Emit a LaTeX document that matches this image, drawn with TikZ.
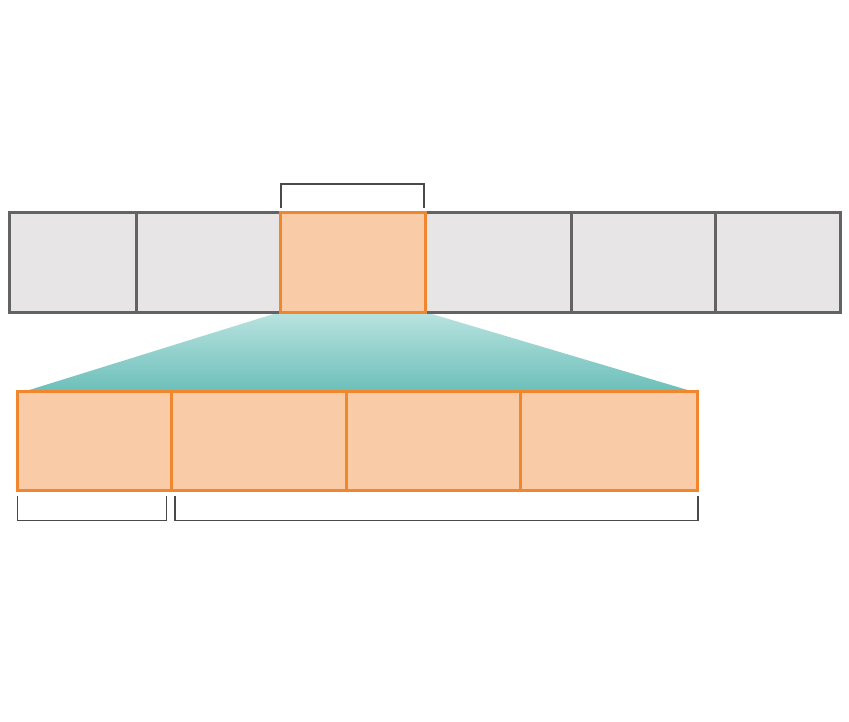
\documentclass[tikz,border=0pt]{standalone}
\usetikzlibrary{calc}
\definecolor{cellgray}{HTML}{E7E5E6}
\definecolor{edgegray}{HTML}{646363}
\definecolor{cellorange}{HTML}{F9CBA7}
\definecolor{edgeorange}{HTML}{F0862E}
\definecolor{tealtop}{HTML}{BAE3E0}
\definecolor{tealbot}{HTML}{6CBFBA}
\definecolor{brackgray}{HTML}{4A4A4A}
\begin{document}
\begin{tikzpicture}[x=1pt,y=-1pt,
  graycell/.style={draw=edgegray, fill=cellgray, line width=3pt, inner sep=0pt, outer sep=0pt, minimum height=99pt},
  orangecell/.style={draw=edgeorange, fill=cellorange, line width=3pt, inner sep=0pt, outer sep=0pt, minimum height=99pt},
  bracket/.style={draw=brackgray, line width=1.3pt}]
\useasboundingbox (0,0) rectangle (849,722);
% zoom wedge
\shade[top color=tealtop, bottom color=tealbot] (280,312) -- (425,312) -- (691,391) -- (26,391) -- cycle;
% top bar
\node[graycell, minimum width=127pt] (g1) at (72.5,262.5) {};
\node[graycell, minimum width=144pt] (g2) at (208,262.5) {};
\node[graycell, minimum width=146pt] (g3) at (498,262.5) {};
\node[graycell, minimum width=144pt] (g4) at (643,262.5) {};
\node[graycell, minimum width=125pt] (g5) at (777.5,262.5) {};
\node[orangecell, minimum width=145pt] (o) at (352.5,262.5) {};
% bottom row
\node[orangecell, minimum width=154pt] (b1) at (94,440.5) {};
\node[orangecell, minimum width=175pt] (b2) at (258.5,440.5) {};
\node[orangecell, minimum width=174pt] (b3) at (433,440.5) {};
\node[orangecell, minimum width=177pt] (b4) at (608.5,440.5) {};
% brackets
\draw[bracket] (281,208) -- (281,184) -- (424,184) -- (424,208);
\draw[bracket] (17.5,496) -- (17.5,520.5) -- (166.5,520.5) -- (166.5,496);
\draw[bracket] (175,496) -- (175,520.5) -- (698,520.5) -- (698,496);
\end{tikzpicture}
\end{document}
